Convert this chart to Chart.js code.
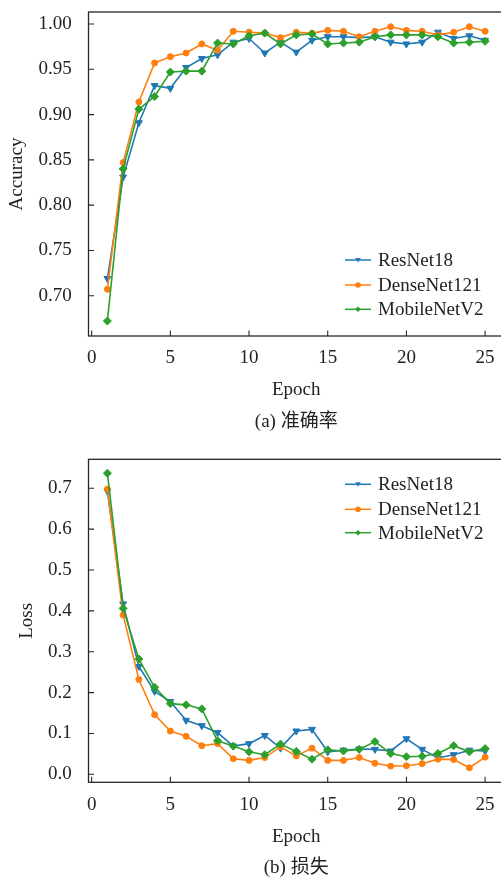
<!DOCTYPE html>
<html>
<head>
<meta charset="utf-8">
<script src="https://cdn.jsdelivr.net/npm/chart.js@4/dist/chart.umd.min.js"></script>
<style>
  html, body { margin: 0; padding: 0; background: #fff; width: 501px; height: 880px; overflow: hidden; }
  #wrap { position: relative; width: 501px; height: 880px; overflow: hidden; }
  canvas { position: absolute; left: 0; }
  #c1 { top: 0; }
  #c2 { top: 440px; }
</style>
</head>
<body>
<div id="wrap">
  <canvas id="c1" width="520" height="440"></canvas>
  <canvas id="c2" width="520" height="440"></canvas>
</div>
<script>
// ---------------- data ----------------
const epochs = [1,2,3,4,5,6,7,8,9,10,11,12,13,14,15,16,17,18,19,20,21,22,23,24,25];
const seriesNames = ['ResNet18', 'DenseNet121', 'MobileNetV2'];

const resAcc    = [0.719,0.831,0.891,0.932,0.929,0.952,0.962,0.966,0.980,0.984,0.968,0.980,0.969,0.982,0.986,0.986,0.985,0.986,0.980,0.978,0.980,0.991,0.984,0.987,0.982];
const denseAcc  = [0.707,0.847,0.914,0.957,0.964,0.968,0.978,0.971,0.992,0.991,0.990,0.985,0.991,0.990,0.993,0.992,0.986,0.992,0.997,0.993,0.992,0.988,0.991,0.997,0.992];
const mobileAcc = [0.672,0.840,0.906,0.920,0.947,0.948,0.948,0.979,0.978,0.987,0.990,0.978,0.988,0.989,0.978,0.979,0.980,0.986,0.988,0.988,0.988,0.986,0.979,0.980,0.981];

const resLoss    = [0.693,0.417,0.264,0.203,0.178,0.132,0.119,0.102,0.069,0.075,0.095,0.064,0.106,0.110,0.055,0.059,0.062,0.061,0.057,0.087,0.061,0.040,0.048,0.059,0.057];
const denseLoss  = [0.698,0.390,0.232,0.146,0.106,0.093,0.070,0.075,0.038,0.034,0.041,0.067,0.045,0.064,0.034,0.034,0.041,0.027,0.020,0.021,0.026,0.037,0.036,0.016,0.042];
const mobileLoss = [0.737,0.406,0.282,0.213,0.173,0.170,0.160,0.082,0.069,0.055,0.048,0.074,0.056,0.037,0.060,0.057,0.061,0.080,0.051,0.043,0.044,0.051,0.070,0.055,0.063];

const xTicks    = [0, 5, 10, 15, 20, 25];
const accTicks  = [0.70, 0.75, 0.80, 0.85, 0.90, 0.95, 1.00];
const lossTicks = [0.0, 0.1, 0.2, 0.3, 0.4, 0.5, 0.6, 0.7];

// ---------------- styles ----------------
const FONT = '"Liberation Serif", "Times New Roman", "Noto Sans CJK SC", serif';
const TEXT = '#222222';
const colors = ['#1f77b4', '#ff7f0e', '#2ca02c'];
const styles = [
  { pointStyle: 'triangle', rotation: 180, radius: 4 },
  { pointStyle: 'circle',   rotation: 0,   radius: 3 },
  { pointStyle: 'rectRot',  rotation: 0,   radius: 4 }
];

Chart.defaults.font.family = FONT;
Chart.defaults.font.size = 19;
Chart.defaults.color = TEXT;

function toPoints(arr) { return epochs.map((e, i) => ({ x: e, y: arr[i] })); }

function makeDatasets(arrs) {
  return arrs.map((arr, i) => ({
    label: seriesNames[i],
    data: toPoints(arr),
    borderColor: colors[i],
    backgroundColor: colors[i],
    pointBackgroundColor: colors[i],
    pointBorderColor: colors[i],
    borderWidth: 1.6,
    pointRadius: styles[i].radius,
    pointBorderWidth: 1,
    pointStyle: styles[i].pointStyle,
    rotation: styles[i].rotation,
    tension: 0,
    order: 3 - i
  }));
}

// frame + inward ticks
const framePlugin = {
  id: 'frameTicks',
  afterDatasetsDraw(chart) {
    const { ctx, chartArea: a, scales } = chart;
    ctx.save();
    ctx.strokeStyle = '#262626';
    ctx.lineWidth = 1.3;
    ctx.strokeRect(a.left, a.top, a.right - a.left, a.bottom - a.top);
    ctx.lineWidth = 1.1;
    ctx.beginPath();
    scales.x.ticks.forEach(t => {
      const px = scales.x.getPixelForValue(t.value);
      ctx.moveTo(px, a.bottom);
      ctx.lineTo(px, a.bottom - 5.5);
    });
    scales.y.ticks.forEach(t => {
      const py = scales.y.getPixelForValue(t.value);
      ctx.moveTo(a.left, py);
      ctx.lineTo(a.left + 5.5, py);
    });
    ctx.stroke();
    ctx.restore();
  }
};

// custom legend drawn inside plot area
function drawMarker(ctx, style, x, y, r) {
  ctx.beginPath();
  if (style === 'circle') {
    ctx.arc(x, y, r, 0, Math.PI * 2);
  } else if (style === 'triangle') {
    ctx.moveTo(x - r, y - r * 0.7);
    ctx.lineTo(x + r, y - r * 0.7);
    ctx.lineTo(x, y + r * 0.9);
    ctx.closePath();
  } else {
    ctx.moveTo(x, y - r); ctx.lineTo(x + r, y); ctx.lineTo(x, y + r); ctx.lineTo(x - r, y); ctx.closePath();
  }
  ctx.fill();
}

function legendPlugin(anchor, offsets) {
  return {
    id: 'customLegend',
    afterDraw(chart) {
      const { ctx, chartArea: a } = chart;
      const x0 = a.right - 159, x1 = a.right - 133, tx = a.right - 126;
      ctx.save();
      chart.data.datasets.forEach((ds, i) => {
        const y = (anchor === 'bottom' ? a.bottom : a.top) + offsets[i];
        ctx.strokeStyle = ds.borderColor;
        ctx.fillStyle = ds.borderColor;
        ctx.lineWidth = 1.5;
        ctx.beginPath(); ctx.moveTo(x0, y); ctx.lineTo(x1, y); ctx.stroke();
        drawMarker(ctx, ds.pointStyle, (x0 + x1) / 2, y, 2.8);
        ctx.fillStyle = TEXT;
        ctx.font = '19px ' + FONT;
        ctx.textAlign = 'left';
        ctx.textBaseline = 'middle';
        ctx.fillText(ds.label, tx, y + 1);
      });
      ctx.restore();
    }
  };
}

function makeChart(id, cfg) {
  return new Chart(document.getElementById(id), {
    type: 'line',
    data: { datasets: makeDatasets(cfg.arrs) },
    options: {
      responsive: false,
      animation: false,
      devicePixelRatio: 1,
      layout: { padding: { top: cfg.padTop, right: 16, left: 0, bottom: 0 } },
      plugins: {
        legend: { display: false },
        tooltip: { enabled: false },
        title: {
          display: true,
          text: cfg.caption,
          position: 'bottom',
          fullSize: false,
          color: TEXT,
          font: { family: FONT, size: 19, weight: 'normal' },
          padding: { top: cfg.capPadTop, bottom: cfg.capPadBottom }
        }
      },
      scales: {
        x: {
          type: 'linear',
          min: -0.2, max: 26.2,
          bounds: 'data',
          afterBuildTicks: s => { s.ticks = xTicks.map(v => ({ value: v })); },
          afterFit: s => { s.height = 66; s.paddingLeft = 0; s.paddingRight = 0; },
          grid: { display: false, drawTicks: false },
          border: { display: false },
          ticks: { padding: 11, color: TEXT, font: { size: 19 }, maxRotation: 0, autoSkip: false,
                   callback: v => String(v) },
          title: { display: true, text: 'Epoch', color: TEXT, font: { size: 19 },
                   padding: { top: 0, bottom: cfg.xTitlePadBottom } }
        },
        y: {
          type: 'linear',
          min: cfg.yMin, max: cfg.yMax,
          bounds: 'data',
          afterBuildTicks: s => { s.ticks = cfg.yTicks.map(v => ({ value: v })); },
          afterFit: s => { s.width = 88.5; s.paddingTop = 0; s.paddingBottom = 0; },
          grid: { display: false, drawTicks: false },
          border: { display: false },
          ticks: { padding: 16.8, color: TEXT, font: { size: 19 }, autoSkip: false,
                   callback: v => v.toFixed(cfg.decimals) },
          title: { display: true, text: cfg.yTitle, color: TEXT, font: { size: 19 },
                   padding: { top: cfg.yTitlePad, bottom: 0 } }
        }
      }
    },
    plugins: [framePlugin, legendPlugin(cfg.legendAnchor, cfg.legendOffsets)]
  });
}

makeChart('c1', {
  arrs: [resAcc, denseAcc, mobileAcc],
  caption: '(a) 准确率',
  padTop: 12,
  capPadTop: 8.3, capPadBottom: 6.9,
  xTitlePadBottom: 0.6,
  yMin: 0.6555, yMax: 1.0133,
  yTicks: accTicks, decimals: 2,
  yTitle: 'Accuracy', yTitlePad: 5.6,
  legendAnchor: 'bottom', legendOffsets: [-76, -51, -26.7]
});

makeChart('c2', {
  arrs: [resLoss, denseLoss, mobileLoss],
  caption: '(b) 损失',
  padTop: 19.3,
  capPadTop: 8.6, capPadBottom: 0.3,
  xTitlePadBottom: 0.2,
  yMin: -0.0196, yMax: 0.771,
  yTicks: lossTicks, decimals: 1,
  yTitle: 'Loss', yTitlePad: 15.6,
  legendAnchor: 'top', legendOffsets: [25, 50, 73.4]
});
</script>
</body>
</html>
